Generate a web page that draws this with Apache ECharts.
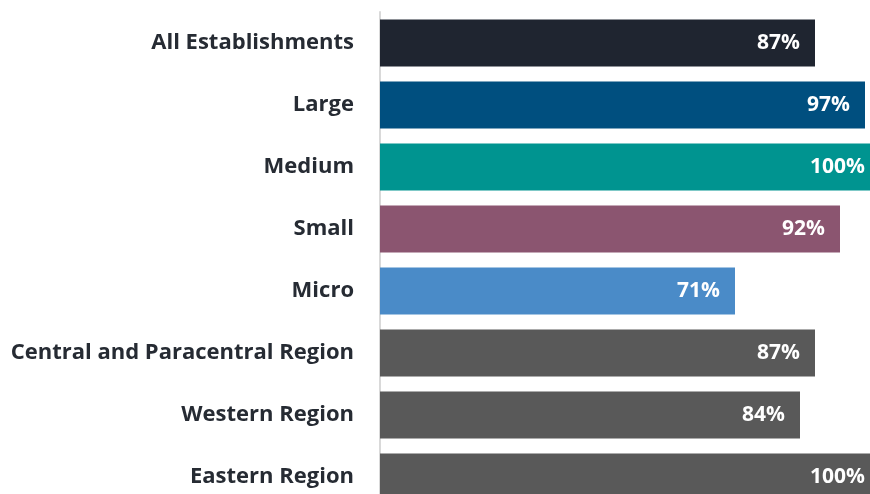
<!DOCTYPE html>
<html>
<head>
<meta charset="utf-8">
<style>
  html, body { margin: 0; padding: 0; background: #fff; overflow: hidden; }
  /* the plot runs slightly past the right and bottom edges of the page */
  #chart { width: 880px; height: 508px; }
</style>
<script src="https://cdn.jsdelivr.net/npm/echarts@6/dist/echarts.min.js"></script>
</head>
<body>
<div id="chart"></div>
<script>
// Share of establishments, by size class and region (%)
const categories = [
  'All Establishments',
  'Large',
  'Medium',
  'Small',
  'Micro',
  'Central and Paracentral Region',
  'Western Region',
  'Eastern Region'
];
const values = [87, 97, 100, 92, 71, 87, 84, 100];
const barColors = ['#1f2530', '#004f7f', '#009490', '#8b5570', '#4a8bc8', '#595959', '#595959', '#595959'];

const chart = echarts.init(document.getElementById('chart'));

chart.setOption({
  animation: false,
  grid: { left: 380, right: 0, top: 12, bottom: 0, containLabel: false },
  xAxis: {
    type: 'value',
    min: 0,
    max: 100,
    show: false
  },
  yAxis: {
    type: 'category',
    data: categories,
    inverse: true,
    axisLine: { show: true, lineStyle: { color: '#d9d9d9', width: 2 } },
    axisTick: { show: false },
    axisLabel: {
      margin: 26,
      color: '#262b33',
      fontFamily: 'Open Sans',
      fontWeight: 'bold',
      fontSize: 22
    }
  },
  series: [{
    type: 'bar',
    barWidth: 47,
    data: values.map((v, i) => ({ value: v, itemStyle: { color: barColors[i] } })),
    label: {
      show: true,
      position: 'insideRight',
      distance: 15,
      formatter: p => p.value + '%',
      color: '#ffffff',
      fontFamily: 'Open Sans',
      fontWeight: 'bold',
      fontSize: 21
    }
  }]
});
</script>
</body>
</html>
